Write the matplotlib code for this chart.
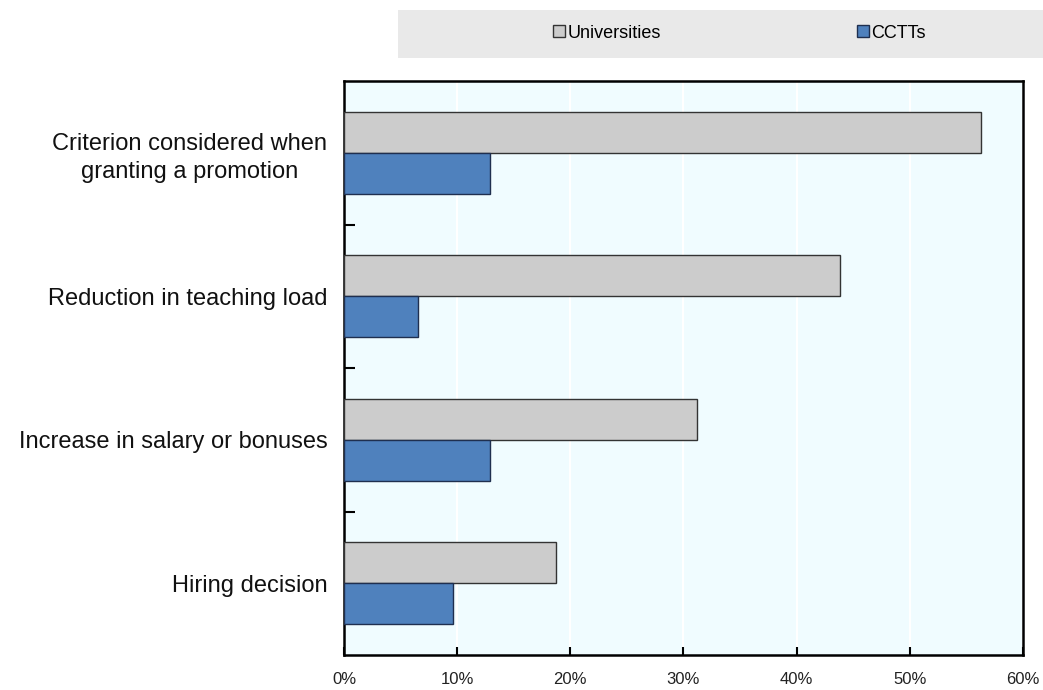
import matplotlib.pyplot as plt
import numpy as np
from matplotlib.patches import Rectangle

plt.rcParams['font.family'] = ['Liberation Sans', 'DejaVu Sans']

categories = ['Criterion considered when\ngranting a promotion',
              'Reduction in teaching load',
              'Increase in salary or bonuses',
              'Hiring decision']
universities = [56.3, 43.8, 31.2, 18.7]
cctts = [12.9, 6.5, 12.9, 9.6]
xticks = [0, 10, 20, 30, 40, 50, 60]

fig = plt.figure(figsize=(10.43, 6.9), dpi=100)
ax = fig.add_axes([0.3298, 0.0507, 0.6510, 0.8319])
ax.set_facecolor('#F0FCFF')

y = np.arange(len(categories))
h = 0.286
b1 = ax.barh(y - h/2, universities, height=h, color='#CCCCCC', edgecolor='#333333',
             linewidth=1, label='Universities', zorder=3)
b2 = ax.barh(y + h/2, cctts, height=h, color='#4F81BD', edgecolor='#1F2F4F',
             linewidth=1, label='CCTTs', zorder=3)

ax.set_ylim(len(categories) - 0.5, -0.5)
ax.set_xlim(0, 60)
ax.set_yticks(y)
ax.set_yticklabels(categories, fontsize=17, ha='right', multialignment='center',
                   linespacing=1.35, color='#111111')
ax.tick_params(axis='y', length=0, pad=12)
ax.set_yticks(np.arange(0.5, len(categories) - 1, 1), minor=True)
ax.tick_params(axis='y', which='minor', direction='in', length=8, width=1.5)

ax.set_xticks(xticks)
ax.set_xticklabels(['%d%%' % v for v in xticks], fontsize=12, color='#222222')
ax.tick_params(axis='x', direction='in', length=6, width=1.5, pad=12)
ax.grid(axis='x', color='white', linewidth=1.5, zorder=0)
for s in ax.spines.values():
    s.set_linewidth(1.8)

fig.patches.append(Rectangle((398/1043, 1 - 58/690), 645/1043, 48/690,
                             transform=fig.transFigure, facecolor='#E9E9E9',
                             edgecolor='none', zorder=0))
for handle, x0 in [(b1, 553), (b2, 857)]:
    fig.legend([handle], [handle.get_label()], loc='center left',
               bbox_to_anchor=(x0/1043, 1 - 33/690), frameon=False, fontsize=13,
               handlelength=0.65, handleheight=0.65, handletextpad=0.15,
               borderaxespad=0, borderpad=0)

fig.savefig('out.png', dpi=100)
